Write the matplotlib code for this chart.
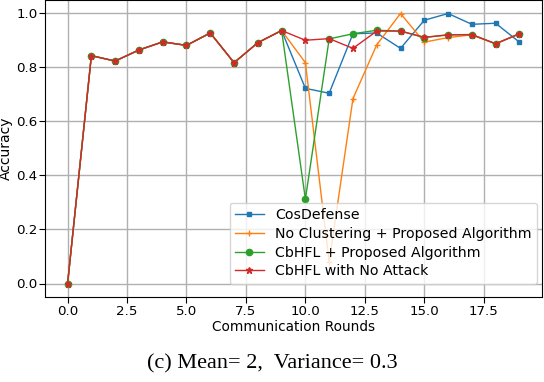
import matplotlib
matplotlib.use("Agg")
import matplotlib.pyplot as plt

rounds = list(range(20))
cos_defense = [0.0, 0.843, 0.823, 0.864, 0.894, 0.881, 0.927, 0.817, 0.891, 0.936,
               0.722, 0.704, 0.924, 0.927, 0.870, 0.974, 0.999, 0.959, 0.963, 0.893]
no_clustering = [0.0, 0.843, 0.823, 0.864, 0.894, 0.881, 0.927, 0.817, 0.891, 0.936,
                 0.817, 0.080, 0.684, 0.883, 0.999, 0.893, 0.910, 0.920, 0.887, 0.924]
cbhfl_proposed = [0.0, 0.843, 0.823, 0.864, 0.894, 0.881, 0.927, 0.817, 0.891, 0.936,
                  0.312, 0.905, 0.924, 0.937, 0.934, 0.910, 0.920, 0.921, 0.887, 0.924]
cbhfl_no_attack = [0.0, 0.843, 0.823, 0.864, 0.894, 0.881, 0.927, 0.817, 0.891, 0.936,
                   0.900, 0.906, 0.870, 0.934, 0.934, 0.911, 0.920, 0.921, 0.887, 0.924]
labels = ["CosDefense", "No Clustering + Proposed Algorithm",
          "CbHFL + Proposed Algorithm", "CbHFL with No Attack"]

fig = plt.figure(figsize=(5.44, 3.82), dpi=100)
ax = fig.add_axes([45/544, 1 - 297/382, 497/544, 297/382])

ax.plot(rounds, cos_defense, color="#1f77b4", marker="s", markersize=2.5, lw=1.0, label=labels[0])
ax.plot(rounds, no_clustering, color="#ff7f0e", marker="+", markersize=5, lw=1.0, label=labels[1])
ax.plot(rounds, cbhfl_proposed, color="#2ca02c", marker="o", markersize=4.5, lw=1.0, label=labels[2])
ax.plot(rounds, cbhfl_no_attack, color="#d62728", marker="*", markersize=5, lw=1.0, label=labels[3])

ax.grid(True, color="#b0b0b0", lw=1.0)
ax.set_xlabel("Communication Rounds", fontsize=9.8, labelpad=2)
ax.set_ylabel("Accuracy", fontsize=10)
ax.yaxis.set_label_coords(-0.064, 0.5)
ax.tick_params(labelsize=9.6, pad=1.5, length=4)
ax.legend(loc="lower right", bbox_to_anchor=(0.990, 0.044), fontsize=10.2,
          borderaxespad=0.0, handlelength=2.0, labelspacing=0.33, framealpha=0.8)

fig.text(0.5, 18/382, "(c) Mean= 2,  Variance= 0.3", ha="center", va="center",
         fontsize=16, family="Liberation Serif")

fig.savefig("out.png", dpi=100)
